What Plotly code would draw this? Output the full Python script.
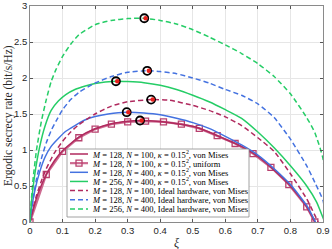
import plotly.graph_objects as go

# ---------------- data ----------------
xi_rs = [0, 0.01, 0.025, 0.05, 0.075, 0.1, 0.15, 0.2, 0.25, 0.3, 0.338, 0.4, 0.45, 0.5, 0.55, 0.6, 0.65, 0.7, 0.75, 0.8, 0.85, 0.875]
rate_rs = [0, 0.18, 0.4, 0.66, 0.85, 0.99, 1.18, 1.295, 1.365, 1.40, 1.41, 1.395, 1.365, 1.33, 1.25, 1.15, 1.05, 0.91, 0.72, 0.50, 0.21, 0]

xi_ru = [0, 0.05, 0.1, 0.15, 0.2, 0.25, 0.3, 0.355, 0.41, 0.465, 0.52, 0.575, 0.63, 0.685, 0.74, 0.795, 0.85, 0.875]
rate_ru = [0, 0.66, 0.98, 1.17, 1.29, 1.36, 1.39, 1.40, 1.39, 1.36, 1.30, 1.20, 1.09, 0.95, 0.76, 0.52, 0.21, 0]

xi_bs = [0, 0.005, 0.015, 0.03, 0.046, 0.065, 0.087, 0.11, 0.138, 0.17, 0.2, 0.24, 0.297, 0.35, 0.4, 0.45, 0.5, 0.55, 0.6, 0.65, 0.7, 0.75, 0.8, 0.85, 0.877]
rate_bs = [0, 0.19, 0.44, 0.7, 0.9, 1.05, 1.16, 1.26, 1.34, 1.42, 1.465, 1.50, 1.525, 1.515, 1.49, 1.44, 1.38, 1.30, 1.19, 1.07, 0.93, 0.74, 0.52, 0.23, 0]

xi_gs = [0, 0.005, 0.015, 0.03, 0.046, 0.065, 0.087, 0.11, 0.138, 0.17, 0.2, 0.264, 0.3, 0.35, 0.4, 0.45, 0.5, 0.55, 0.6, 0.65, 0.7, 0.75, 0.8, 0.85, 0.88, 0.905]
rate_gs = [0, 0.3, 0.67, 1.05, 1.33, 1.55, 1.68, 1.77, 1.84, 1.89, 1.925, 1.955, 1.95, 1.935, 1.90, 1.84, 1.76, 1.67, 1.56, 1.44, 1.25, 1.03, 0.78, 0.50, 0.28, 0]

xi_rd = [0, 0.005, 0.01, 0.02, 0.035, 0.05, 0.075, 0.1, 0.125, 0.15, 0.2, 0.25, 0.3, 0.372, 0.43, 0.5, 0.55, 0.6, 0.65, 0.7, 0.75, 0.8, 0.85, 0.885]
rate_rd = [0, 0.1, 0.2, 0.37, 0.57, 0.74, 0.96, 1.12, 1.25, 1.35, 1.5, 1.61, 1.67, 1.70, 1.69, 1.62, 1.55, 1.46, 1.34, 1.17, 0.98, 0.67, 0.32, 0]

xi_bd = [0, 0.005, 0.01, 0.02, 0.035, 0.05, 0.065, 0.08, 0.1, 0.125, 0.15, 0.2, 0.25, 0.3, 0.36, 0.4, 0.45, 0.5, 0.55, 0.6, 0.65, 0.7, 0.75, 0.8, 0.85, 0.875, 0.9, 0.91]
rate_bd = [0, 0.18, 0.33, 0.6, 0.88, 1.1, 1.27, 1.4, 1.56, 1.7, 1.8, 1.93, 2.02, 2.08, 2.10, 2.09, 2.06, 2.0, 1.93, 1.84, 1.76, 1.64, 1.45, 1.15, 0.78, 0.55, 0.3, 0]

xi_gd = [0, 0.005, 0.01, 0.02, 0.035, 0.05, 0.065, 0.08, 0.1, 0.125, 0.15, 0.2, 0.25, 0.3, 0.351, 0.4, 0.45, 0.5, 0.55, 0.6, 0.65, 0.7, 0.75, 0.8, 0.85, 0.875, 0.9, 0.915]
rate_gd = [0, 0.35, 0.62, 1.0, 1.4, 1.7, 1.95, 2.12, 2.3, 2.47, 2.6, 2.74, 2.80, 2.825, 2.83, 2.80, 2.75, 2.67, 2.57, 2.46, 2.34, 2.2, 2.02, 1.78, 1.45, 1.24, 0.88, 0]

opt_xi = [0.338, 0.297, 0.264, 0.372, 0.36, 0.351]
opt_rate = [1.41, 1.525, 1.955, 1.70, 2.10, 2.83]
alg_xi = [0.343, 0.302, 0.268, 0.377, 0.365, 0.355]
alg_rate = [1.41, 1.525, 1.955, 1.70, 2.10, 2.83]

legend_labels = [
    "<i>M</i> = 128, <i>N</i> = 100, <i>κ</i> = 0.15<sup>2</sup>, von Mises",
    "<i>M</i> = 128, <i>N</i> = 100, <i>κ</i> = 0.15<sup>2</sup>, uniform",
    "<i>M</i> = 128, <i>N</i> = 400, <i>κ</i> = 0.15<sup>2</sup>, von Mises",
    "<i>M</i> = 256, <i>N</i> = 400, <i>κ</i> = 0.15<sup>2</sup>, von Mises",
    "<i>M</i> = 128, <i>N</i> = 100, Ideal hardware, von Mises",
    "<i>M</i> = 128, <i>N</i> = 400, Ideal hardware, von Mises",
    "<i>M</i> = 256, <i>N</i> = 400, Ideal hardware, von Mises",
]
x_ticks = [0, 0.1, 0.2, 0.3, 0.4, 0.5, 0.6, 0.7, 0.8, 0.9]
y_ticks = [0, 0.5, 1, 1.5, 2, 2.5, 3]

# ---------------- styles ----------------
RED = "#B02A5E"
PINK = "rgba(196,80,125,0.85)"
BLUE = "#4472E0"
GREEN = "#25CD66"
DASH = "5px,3px"

W, H = 332, 249
L, R, T, B = 30, 9, 6, 27
PW, PH = W - L - R, H - T - B

fig = go.Figure()

def line(x, y, color, dash="solid", width=1.5):
    fig.add_trace(go.Scatter(x=x, y=y, mode="lines", line=dict(color=color, width=width, dash=dash, shape="spline", smoothing=0.5), hoverinfo="skip"))

fig.add_trace(go.Scatter(x=xi_ru, y=rate_ru, mode="lines+markers",
                         line=dict(color=PINK, width=2.2),
                         marker=dict(symbol="square-open", size=6, color="#B8406E", line=dict(width=1.3)),
                         hoverinfo="skip"))
line(xi_rs, rate_rs, RED)
line(xi_bs, rate_bs, BLUE)
line(xi_gs, rate_gs, GREEN)
line(xi_rd, rate_rd, RED, DASH)
line(xi_bd, rate_bd, BLUE, DASH)
line(xi_gd, rate_gd, GREEN, DASH)

fig.add_trace(go.Scatter(x=opt_xi, y=opt_rate, mode="markers",
                         marker=dict(symbol="circle-open", size=8, color="black", line=dict(width=1.8)), hoverinfo="skip"))
fig.add_trace(go.Scatter(x=alg_xi, y=alg_rate, mode="markers",
                         marker=dict(symbol="circle", size=4.5, color="#E8201C"), hoverinfo="skip"))

axis_common = dict(showline=True, linecolor="#8a8a8a", linewidth=0.8, mirror="ticks",
                   ticks="inside", ticklen=3, tickwidth=0.8, tickcolor="#555555",
                   showgrid=True, gridcolor="#e6e6e6", gridwidth=0.7, zeroline=False,
                   automargin=False, ticklabeloverflow="allow",
                   tickfont=dict(family="Liberation Sans", size=9.5, color="#262626"))

fig.update_layout(
    width=W, height=H, margin=dict(l=L, r=R, t=T, b=B, autoexpand=False),
    paper_bgcolor="white", plot_bgcolor="white", showlegend=False,
    xaxis=dict(range=[0, 0.9], tickvals=x_ticks, ticktext=[f"{v:g}" for v in x_ticks], **axis_common),
    yaxis=dict(range=[0, 3.0001], tickvals=y_ticks, ticktext=[f"{v:g}" for v in y_ticks], **axis_common),
)

# ---------------- legend (drawn in pixel frame, converted to paper coords) ----------------
def px(xp):
    return (xp - L) / PW

def py(yp):
    return (H - B - yp) / PH

lx0, lx1, ly0, ly1 = 67, 249, 149, 217
row0, drow = 154, 9.15
sx0, sx1, tx = 70, 88, 90
shapes = [dict(type="rect", xref="paper", yref="paper", x0=px(lx0), x1=px(lx1), y0=py(ly0), y1=py(ly1),
               fillcolor="white", line=dict(color="#8c8c8c", width=0.8), layer="above")]
styles = [(RED, "solid", 1.5), (PINK, "solid", 2.2), (BLUE, "solid", 1.5), (GREEN, "solid", 1.5),
          (RED, DASH, 1.5), (BLUE, DASH, 1.5), (GREEN, DASH, 1.5)]
annotations = []
for i, (lab, (c, d, w)) in enumerate(zip(legend_labels, styles)):
    yy = row0 + drow * i
    shapes.append(dict(type="line", xref="paper", yref="paper", x0=px(sx0), x1=px(sx1), y0=py(yy), y1=py(yy),
                       line=dict(color=c, width=w, dash=d), layer="above"))
    if i == 1:
        cx = (sx0 + sx1) / 2
        shapes.append(dict(type="rect", xref="paper", yref="paper", x0=px(cx - 3), x1=px(cx + 3),
                           y0=py(yy - 3), y1=py(yy + 3),
                           fillcolor="rgba(0,0,0,0)", line=dict(color="#B8406E", width=1.3), layer="above"))
    annotations.append(dict(xref="paper", yref="paper", x=px(tx), y=py(yy), text=lab, showarrow=False,
                            xanchor="left", yanchor="middle",
                            font=dict(family="Liberation Serif", size=8.5, color="black")))

# axis titles
annotations.append(dict(xref="paper", yref="paper", x=px(8), y=py(116), text="Ergodic secrecy rate (bit/s/Hz)",
                        textangle=-90, showarrow=False, xanchor="center", yanchor="middle",
                        font=dict(family="Liberation Serif", size=11.5, color="#262626")))
annotations.append(dict(xref="paper", yref="paper", x=px((L + W - R) / 2), y=py(243), text="<i>ξ</i>",
                        showarrow=False, xanchor="center", yanchor="middle",
                        font=dict(family="Liberation Serif", size=12, color="#262626")))

fig.update_layout(shapes=shapes, annotations=annotations)
fig.write_html("out.html", config={"displayModeBar": False},
               post_script="document.body.style.margin='0';document.body.style.overflow='hidden';")
